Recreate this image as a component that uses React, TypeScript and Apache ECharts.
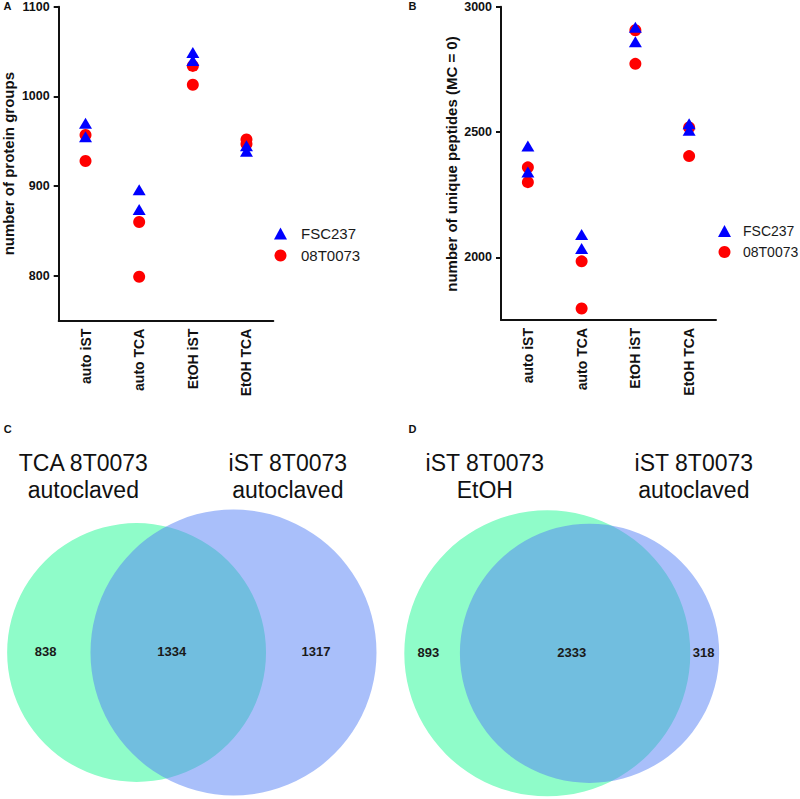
import { useEffect, useRef } from "react";
import * as echarts from "echarts";

// ---------- data ----------
const categories = ["auto iST", "auto TCA", "EtOH iST", "EtOH TCA"];
const seriesNames = ["FSC237", "08T0073"];

// Panel A: number of protein groups (two replicates per category)
const proteinFSC237 = [[970, 955], [896, 874], [1049, 1040], [945, 939]];
const protein08T0073 = [[957, 928], [860, 799], [1034, 1013], [952, 947]];
const proteinTicks = [800, 900, 1000, 1100];

// Panel B: number of unique peptides (MC = 0)
const peptideFSC237 = [[2444, 2340], [2091, 2035], [2918, 2860], [2533, 2507]];
const peptide08T0073 = [[2359, 2300], [1984, 1796], [2906, 2772], [2518, 2404]];
const peptideTicks = [2000, 2500, 3000];

// Panel C / D: Venn diagrams  [only left, both, only right]
const vennCTitles = ["TCA 8T0073\nautoclaved", "iST 8T0073\nautoclaved"];
const vennCCounts = [838, 1334, 1317];
const vennDTitles = ["iST 8T0073\nEtOH", "iST 8T0073\nautoclaved"];
const vennDCounts = [893, 2333, 318];

// ---------- helpers ----------
const FONT = "'Liberation Sans', Arial, Helvetica, sans-serif";

const toPoints = (pairs: number[][]) =>
  pairs.flatMap((vals, i) => vals.map((v) => [i, v]));

function lensArea(r1: number, r2: number, d: number) {
  if (d >= r1 + r2) return 0;
  if (d <= Math.abs(r1 - r2)) return Math.PI * Math.min(r1, r2) ** 2;
  const a = r1 * r1 * Math.acos((d * d + r1 * r1 - r2 * r2) / (2 * d * r1));
  const b = r2 * r2 * Math.acos((d * d + r2 * r2 - r1 * r1) / (2 * d * r2));
  const c =
    0.5 *
    Math.sqrt((-d + r1 + r2) * (d + r1 - r2) * (d - r1 + r2) * (d + r1 + r2));
  return a + b - c;
}

function vennGeometry(counts: number[], maxR: number) {
  const t1 = counts[0] + counts[1];
  const t2 = counts[1] + counts[2];
  const k = maxR / Math.sqrt(Math.max(t1, t2));
  const r1 = k * Math.sqrt(t1);
  const r2 = k * Math.sqrt(t2);
  const target = Math.PI * k * k * counts[1];
  let lo = Math.abs(r1 - r2);
  let hi = r1 + r2;
  for (let i = 0; i < 60; i++) {
    const mid = (lo + hi) / 2;
    if (lensArea(r1, r2, mid) > target) lo = mid;
    else hi = mid;
  }
  return { r1, r2, d: (lo + hi) / 2 };
}

const GREEN = "#8ffcc9";
const BLUE = "rgba(84,128,246,0.5)";

function vennGraphics(
  titles: string[],
  counts: number[],
  anchor: "right" | "left",
  anchorX: number,
  cy: number,
  titlePos: number[][],
  countX: number[]
) {
  const { r1, r2, d } = vennGeometry(counts, 143);
  const cx1 = anchor === "right" ? anchorX - d : anchorX;
  const cx2 = anchor === "right" ? anchorX : anchorX + d;
  const els: any[] = [
    { type: "circle", shape: { cx: cx1, cy, r: r1 }, style: { fill: GREEN }, silent: true },
    { type: "circle", shape: { cx: cx2, cy, r: r2 }, style: { fill: BLUE }, silent: true },
  ];
  titles.forEach((t, i) => {
    els.push({
      type: "text",
      x: titlePos[i][0],
      y: titlePos[i][1],
      style: {
        text: t,
        fontFamily: FONT,
        fontSize: 23,
        lineHeight: 27,
        fill: "#111",
        align: "center",
        verticalAlign: "middle",
      },
    });
  });
  counts.forEach((c, i) => {
    els.push({
      type: "text",
      x: countX[i],
      y: cy - 1,
      style: {
        text: String(c),
        fontFamily: FONT,
        fontSize: 13,
        fontWeight: "bold",
        fill: "#1a1a1a",
        align: "center",
        verticalAlign: "middle",
      },
    });
  });
  return els;
}

function panelLetter(t: string, x: number, y: number) {
  return {
    type: "text",
    x,
    y,
    style: {
      text: t,
      fontFamily: FONT,
      fontSize: 11,
      fontWeight: "bold",
      fill: "#111",
      align: "center",
      verticalAlign: "middle",
    },
  };
}

function axisTitle(t: string, x: number, y: number) {
  return {
    type: "text",
    x,
    y,
    rotation: Math.PI / 2,
    style: {
      text: t,
      fontFamily: FONT,
      fontSize: 15,
      fontWeight: "bold",
      fill: "#111",
      align: "center",
      verticalAlign: "middle",
    },
  };
}

const axisLineStyle = { color: "#111", width: 2 };

function xAxisDef(gridIndex: number) {
  return {
    type: "category",
    gridIndex,
    data: categories,
    boundaryGap: true,
    axisLine: { lineStyle: axisLineStyle },
    axisTick: { alignWithLabel: true, length: 5, lineStyle: axisLineStyle },
    axisLabel: {
      rotate: 90,
      margin: 8,
      fontFamily: FONT,
      fontSize: 14,
      fontWeight: "bold",
      color: "#111",
    },
    splitLine: { show: false },
  };
}

function yAxisDef(gridIndex: number, min: number, max: number, ticks: number[]) {
  return {
    type: "value",
    gridIndex,
    min,
    max,
    axisLine: { show: true, lineStyle: axisLineStyle },
    axisTick: { show: true, length: 5, lineStyle: axisLineStyle, customValues: ticks },
    axisLabel: {
      customValues: ticks,
      formatter: (v: number) => String(v),
      margin: 9,
      fontFamily: FONT,
      fontSize: 12.5,
      fontWeight: "bold",
      color: "#111",
    },
    splitLine: { show: false },
  };
}

function scatter(
  name: string,
  idx: number,
  data: number[][],
  symbol: string,
  size: number | number[],
  color: string
) {
  return {
    type: "scatter",
    name,
    xAxisIndex: idx,
    yAxisIndex: idx,
    data,
    symbol,
    symbolSize: size,
    itemStyle: { color, opacity: 1 },
    emphasis: { disabled: true },
  };
}

function legendDef(left: number, top: number, fontSize: number, pad: number) {
  return {
    left,
    top,
    orient: "vertical",
    data: [
      { name: seriesNames[0], icon: "triangle" },
      { name: seriesNames[1], icon: "circle" },
    ],
    itemWidth: 13,
    itemHeight: 12,
    itemGap: 7,
    selectedMode: false,
    textStyle: {
      fontFamily: FONT,
      fontSize,
      color: "#1a1a1a",
      padding: [0, 0, 0, pad],
    },
  };
}

export default function App() {
  const ref = useRef<HTMLDivElement>(null);

  useEffect(() => {
    if (!ref.current) return;
    const chart = echarts.init(ref.current, undefined, { renderer: "svg" });

    const graphic: any[] = [
      panelLetter("A", 7.5, 6),
      panelLetter("B", 412.5, 6),
      panelLetter("C", 7.7, 428.7),
      panelLetter("D", 412.5, 428.7),
      axisTitle("number of protein groups", 8.5, 163.7),
      axisTitle("number of unique peptides (MC = 0)", 451, 164),
      ...vennGraphics(
        vennCTitles,
        vennCCounts,
        "right",
        233.5,
        652.5,
        [
          [83.3, 476.5],
          [287.8, 476.5],
        ],
        [45.7, 171.7, 316]
      ),
      ...vennGraphics(
        vennDTitles,
        vennDCounts,
        "left",
        547.3,
        653.3,
        [
          [484.8, 476.5],
          [693.8, 476.5],
        ],
        [428.3, 571.7, 703.7]
      ),
    ];

    chart.setOption({
      animation: false,
      backgroundColor: "#ffffff",
      textStyle: { fontFamily: FONT },
      grid: [
        { left: 58.7, top: 6.7, width: 214.6, height: 314 },
        { left: 501, top: 6.7, width: 215, height: 313.3 },
      ],
      xAxis: [xAxisDef(0), xAxisDef(1)],
      yAxis: [
        yAxisDef(0, 750, 1100, proteinTicks),
        yAxisDef(1, 1750, 3000, peptideTicks),
      ],
      legend: [legendDef(269, 221, 15, 9), legendDef(713, 219, 14, 7)],
      series: [
        scatter(seriesNames[1], 0, toPoints(protein08T0073), "circle", 12, "#ff0000"),
        scatter(seriesNames[0], 0, toPoints(proteinFSC237), "triangle", [13, 11], "#0000ff"),
        scatter(seriesNames[1], 1, toPoints(peptide08T0073), "circle", 12, "#ff0000"),
        scatter(seriesNames[0], 1, toPoints(peptideFSC237), "triangle", [13, 11], "#0000ff"),
      ],
      graphic,
    });

    return () => chart.dispose();
  }, []);

  return (
    <div
      ref={ref}
      style={{ position: "fixed", left: 0, top: 0, width: 800, height: 799 }}
    />
  );
}
